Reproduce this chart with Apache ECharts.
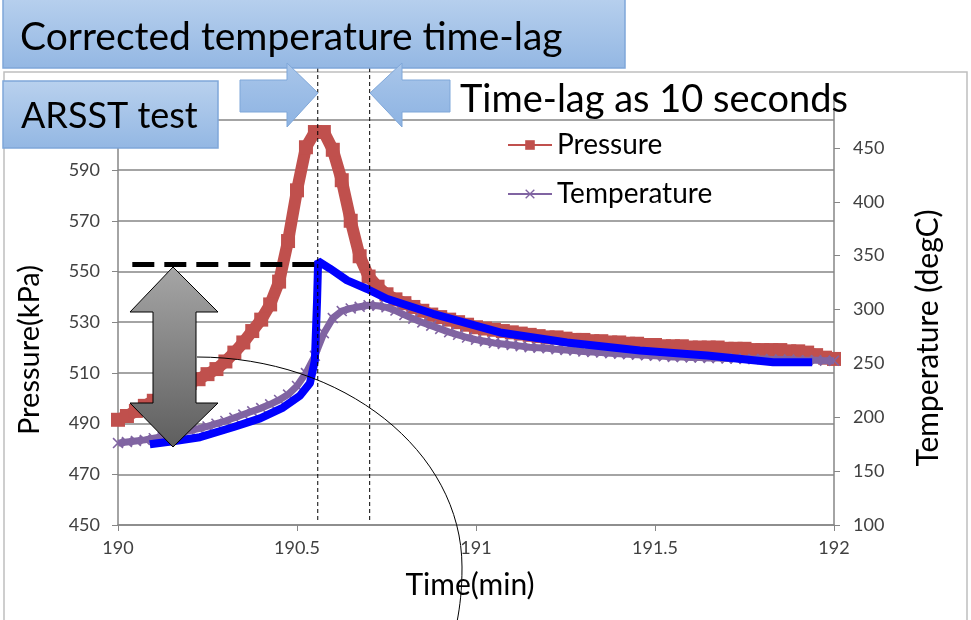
<!DOCTYPE html>
<html>
<head>
<meta charset="utf-8">
<script src="https://cdn.jsdelivr.net/npm/echarts@6/dist/echarts.min.js"></script>
<style>
html,body{margin:0;padding:0;background:#fff}
#main{width:971px;height:620px}
</style>
</head>
<body>
<div id="main"></div>
<script>
// sample times (min)
var times = [190.000,190.025,190.050,190.075,190.100,190.125,190.150,190.175,190.200,190.225,
             190.250,190.275,190.300,190.325,190.350,190.375,190.400,190.425,190.450,190.475,
             190.500,190.525,190.550,190.575,190.600,190.625,190.650,190.675,190.700,190.725,
             190.750,190.775,190.800,190.825,190.850,190.875,190.900,190.925,190.950,190.975,
             191.000,191.025,191.050,191.075,191.100,191.125,191.150,191.175,191.200,191.225,
             191.250,191.275,191.300,191.325,191.350,191.375,191.400,191.425,191.450,191.475,
             191.500,191.525,191.550,191.575,191.600,191.625,191.650,191.675,191.700,191.725,
             191.750,191.775,191.800,191.825,191.850,191.875,191.900,191.925,191.950,191.975,
             192.000];
// kPa
var pressure = [491.5,493,495,497,499,501,503,504.5,506,507.5,
                509.5,511.5,514.5,518,522,526.5,531,537,546,562,
                582,599,605,605,598,586,570,556,548,544,
                541,539,537.5,536,534.5,533,532,531,530,529,
                528,527.5,527,526.5,526,525.5,525,524.5,524,524,
                523.5,523,523,522.5,522.5,522,522,521.5,521.5,521,
                521,520.5,520.5,520.5,520,520,520,520,519.5,519.5,
                519.5,519,519,519,519,518.5,518.5,518,517,516,
                515.5];
// degC
var temperature = [176,177,178,179,180.5,182,183.5,185.5,187.5,189.5,
                   191.5,194,196.5,199.5,202.5,205.5,208.5,212,216,221,
                   229,241,257,278,292,298.5,301,302.5,304,303.5,
                   302,299,295,291.5,288,285,282,279,276.5,274,
                   272,270.5,269,268,267,266,265,264.5,264,263,
                   262.5,262,261,260.5,260,259.5,259,258.5,258,257.5,
                   257,256.5,256,256,255.5,255.5,255,255,254.5,254.5,
                   254,254,254,253.5,253.5,253.5,253,253,253,252.5,
                   252.5];
// corrected temperature (hand drawn blue line)
var corrTime = [190.089,190.154,190.229,190.321,190.397,190.461,190.508,190.536,190.550,190.556,
                190.559,190.592,190.640,190.696,190.751,190.880,191.067,191.254,191.458,191.645,
                191.830,191.939];
var corrTemp = [175,177.8,181.5,190.7,199,209,220,231.5,252.8,308,
                345,338,327,319,310,296,278.7,269.4,262,257.4,
                251,251];
var lagStart = 190.558, lagEnd = 190.703;
var peakLevel = 553;
var peakLineFrom = 190.04;

var font = 'Lato, "Open Sans", sans-serif';
var grey = '#868686';

function pairs(xs, ys) {
    var out = [];
    for (var i = 0; i < xs.length; i++) {
        out.push([xs[i], ys[i]]);
    }
    return out;
}

var crossPath = 'path://M0,1L1,0L5,4L9,0L10,1L6,5L10,9L9,10L5,6L1,10L0,9L4,5Z';

var myChart = echarts.init(document.getElementById('main'));
var option = {
    animation: false,
    backgroundColor: '#fff',
    grid: { left: 118, right: 137, top: 94, bottom: 95 },
    legend: {
        data: ['Pressure', 'Temperature'],
        orient: 'vertical',
        left: 502,
        top: 126,
        itemGap: 21,
        itemWidth: 44,
        itemHeight: 12,
        textStyle: { fontSize: 28, fontFamily: font, color: '#000' }
    },
    xAxis: {
        type: 'value',
        min: 190,
        max: 192,
        interval: 0.5,
        axisLine: { lineStyle: { color: grey, width: 1.5 } },
        axisTick: { show: true, length: 6, lineStyle: { color: grey } },
        axisLabel: { margin: 14, fontSize: 18, fontFamily: font, color: '#404040' },
        splitLine: { show: false }
    },
    yAxis: [
        {
            type: 'value',
            min: 450,
            max: 620,
            interval: 20,
            axisLine: { show: true, lineStyle: { color: grey, width: 1.5 } },
            axisTick: { show: true, length: 6, lineStyle: { color: grey } },
            axisLabel: { margin: 18, fontSize: 18, fontFamily: font, color: '#404040', showMaxLabel: false },
            splitLine: { show: true, showMaxLine: false, lineStyle: { color: grey, width: 1.5 } }
        },
        {
            type: 'value',
            min: 100,
            max: 500,
            interval: 50,
            position: 'right',
            axisLine: { show: true, lineStyle: { color: grey, width: 1.5 } },
            axisTick: { show: true, length: 6, lineStyle: { color: grey } },
            axisLabel: { margin: 19, fontSize: 18, fontFamily: font, color: '#404040', showMaxLabel: false },
            splitLine: { show: false }
        }
    ],
    series: [
        {
            name: 'Pressure',
            type: 'line',
            yAxisIndex: 0,
            data: pairs(times, pressure),
            symbol: 'rect',
            symbolSize: 14,
            lineStyle: { color: '#C0504D', width: 12 },
            itemStyle: { color: '#C0504D' },
            z: 2,
            markLine: {
                silent: true,
                symbol: 'none',
                label: { show: false },
                lineStyle: { color: '#000', width: 5, type: [22, 10] },
                data: [[{ coord: [peakLineFrom, peakLevel] }, { coord: [lagStart, peakLevel] }]]
            }
        },
        {
            name: 'Temperature',
            type: 'line',
            yAxisIndex: 1,
            data: pairs(times, temperature),
            symbol: crossPath,
            symbolSize: 11,
            lineStyle: { color: '#8064A2', width: 7 },
            itemStyle: { color: '#8064A2' },
            z: 3
        },
        {
            name: 'Corrected',
            type: 'line',
            yAxisIndex: 1,
            data: pairs(corrTime, corrTemp),
            symbol: 'none',
            lineStyle: { color: '#0000FF', width: 8 },
            z: 4
        }
    ]
};
myChart.setOption(option);

var xa = myChart.convertToPixel({ xAxisIndex: 0 }, lagStart);
var xb = myChart.convertToPixel({ xAxisIndex: 0 }, lagEnd);

var boxFill = new echarts.graphic.LinearGradient(0, 0, 0, 1, [
    { offset: 0, color: '#B9D1EE' },
    { offset: 1, color: '#93B7E3' }
]);
var arrowFill = new echarts.graphic.LinearGradient(0, 0, 0, 1, [
    { offset: 0, color: '#A9C6EA' },
    { offset: 1, color: '#8DB3E2' }
]);
var greyFill = new echarts.graphic.LinearGradient(0, 0, 0, 1, [
    { offset: 0, color: '#A6A6A6' },
    { offset: 1, color: '#5E5E5E' }
]);

myChart.setOption({
    graphic: [
        { type: 'rect', z: 1, silent: true, shape: { x: 4, y: 72, width: 963, height: 560 },
          style: { fill: 'none', stroke: '#BFBFBF', lineWidth: 1.5 } },
        { type: 'line', z: 90, shape: { x1: xa, y1: 68, x2: xa, y2: 520 },
          style: { stroke: '#000', lineWidth: 1, lineDash: [4, 3] } },
        { type: 'line', z: 90, shape: { x1: xb, y1: 68, x2: xb, y2: 520 },
          style: { stroke: '#000', lineWidth: 1, lineDash: [4, 3] } },
        { type: 'polygon', z: 95,
          shape: { points: [[173, 267], [130, 312], [153, 312], [153, 403], [130, 403], [173, 447], [218, 403], [196, 403], [196, 312], [218, 312]] },
          style: { fill: greyFill, stroke: '#000', lineWidth: 1 } },
        { type: 'bezierCurve', z: 96,
          shape: { x1: 197, y1: 357, cpx1: 343, cpy1: 357, cpx2: 462, cpy2: 451, x2: 462, y2: 567 },
          style: { stroke: '#000', lineWidth: 1, fill: null } },
        { type: 'bezierCurve', z: 96,
          shape: { x1: 462, y1: 567, cpx1: 462, cpy1: 590, cpx2: 460, cpy2: 606, x2: 457, y2: 622 },
          style: { stroke: '#000', lineWidth: 1, fill: null } },
        { type: 'rect', z: 100, shape: { x: 3, y: -5, width: 622, height: 73 },
          style: { fill: boxFill, stroke: '#7FA7D9', lineWidth: 1.5 } },
        { type: 'text', z: 101, x: 20, y: 37,
          style: { text: 'Corrected temperature time-lag', fontSize: 39, fontFamily: font, fill: '#000', verticalAlign: 'middle' } },
        { type: 'rect', z: 100, shape: { x: 3, y: 81, width: 215, height: 67 },
          style: { fill: boxFill, stroke: '#7FA7D9', lineWidth: 1.5 } },
        { type: 'text', z: 101, x: 21, y: 116,
          style: { text: 'ARSST test', fontSize: 36, fontFamily: font, fill: '#000', verticalAlign: 'middle' } },
        { type: 'polygon', z: 100,
          shape: { points: [[318, 93], [287, 63], [287, 80], [240, 80], [240, 112], [287, 112], [287, 127]] },
          style: { fill: arrowFill, stroke: '#7FA7D9', lineWidth: 1 } },
        { type: 'polygon', z: 100,
          shape: { points: [[370, 93], [402, 63], [402, 80], [450, 80], [450, 112], [402, 112], [402, 127]] },
          style: { fill: arrowFill, stroke: '#7FA7D9', lineWidth: 1 } },
        { type: 'text', z: 101, x: 460, y: 100,
          style: { text: 'Time-lag as 10 seconds', fontSize: 38, fontFamily: font, fill: '#000', verticalAlign: 'middle' } },
        { type: 'text', z: 50, x: 30, y: 350, rotation: Math.PI / 2,
          style: { text: 'Pressure(kPa)', fontSize: 29, fontFamily: font, fill: '#000', align: 'center', verticalAlign: 'middle' } },
        { type: 'text', z: 50, x: 928, y: 338, rotation: Math.PI / 2,
          style: { text: 'Temperature (degC)', fontSize: 30, fontFamily: font, fill: '#000', align: 'center', verticalAlign: 'middle' } },
        { type: 'text', z: 50, x: 470, y: 585,
          style: { text: 'Time(min)', fontSize: 30, fontFamily: font, fill: '#000', align: 'center', verticalAlign: 'middle' } }
    ]
});
window.onresize = myChart.resize;
</script>
</body>
</html>
